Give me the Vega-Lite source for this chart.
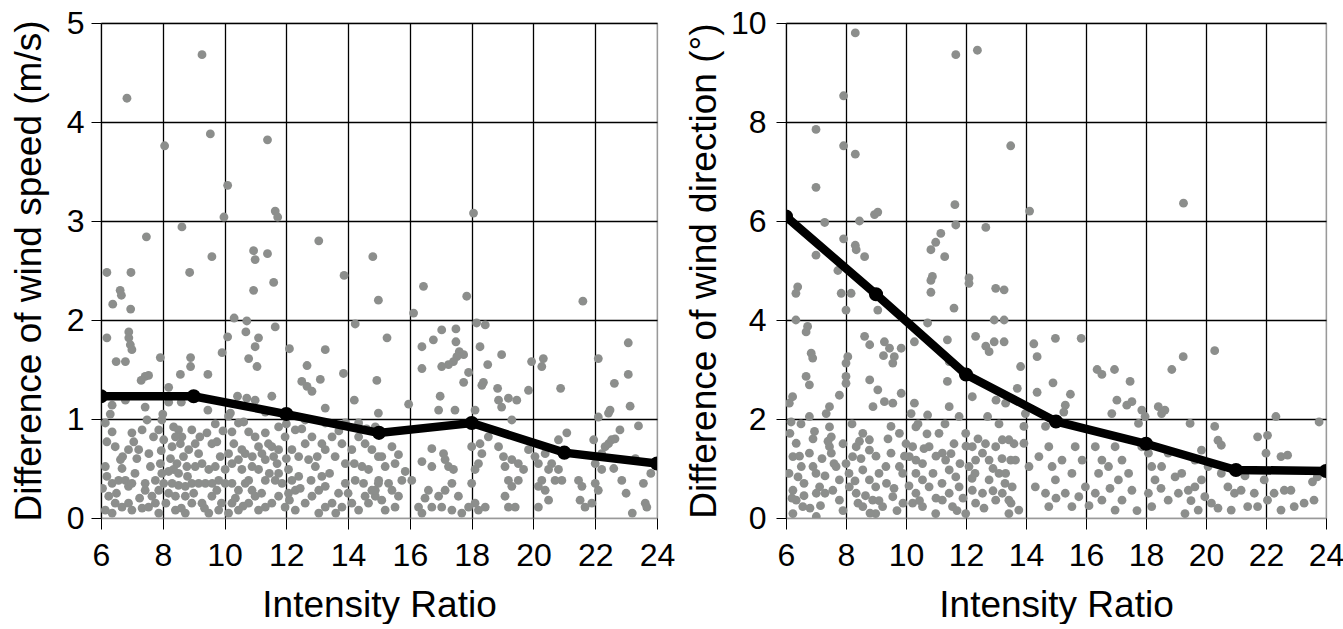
{
"$schema": "https://vega.github.io/schema/vega-lite/v6.json",
"background": "white",
"padding": {"left": 9, "top": 6, "right": 0, "bottom": 0},
"spacing": 8,
"config": {
  "font": "Liberation Sans",
  "view": {"stroke": "#999", "strokeWidth": 1.2},
  "axis": {"labelFont": "Liberation Sans", "labelFontSize": 32, "labelColor": "#000", "titleFont": "Liberation Sans", "titleFontSize": 37, "titleFontWeight": "normal", "titleColor": "#000", "grid": true, "gridOpacity": 1, "gridWidth": 1.3, "tickColor": "#000", "tickWidth": 1, "domain": false, "labelOverlap": false, "labelFlush": false},
  "axisX": {"tickSize": 11, "labelPadding": 11, "titlePadding": 16, "gridColor": {"condition": {"test": "datum.value === 24", "value": "#999"}, "value": "#000"}},
  "axisY": {"tickSize": 10, "labelPadding": 7, "titlePadding": 18, "gridColor": {"condition": {"test": "datum.value === 0", "value": "#999"}, "value": "#000"}}
},
"datasets": {
  "speed": [
{"x":9.27,"y":4.68},{"x":6.84,"y":4.24},{"x":8.06,"y":3.76},{"x":9.54,"y":3.88},{"x":11.39,"y":3.82},{"x":10.1,"y":3.36},{"x":9.98,"y":3.04},{"x":11.64,"y":3.1},{"x":11.72,"y":3.04},{"x":7.47,"y":2.84},{"x":8.62,"y":2.94},{"x":13.05,"y":2.8},{"x":10.94,"y":2.7},{"x":11.39,"y":2.67},{"x":10.99,"y":2.61},{"x":9.59,"y":2.64},{"x":14.8,"y":2.64},{"x":18.06,"y":3.08},
{"x":6.19,"y":2.48},{"x":6.97,"y":2.48},{"x":6.62,"y":2.3},{"x":6.66,"y":2.25},{"x":6.38,"y":2.16},{"x":6.96,"y":2.11},{"x":8.87,"y":2.48},{"x":11.59,"y":2.38},{"x":10.94,"y":2.3},{"x":13.87,"y":2.45},{"x":14.98,"y":2.2},{"x":10.31,"y":2.02},{"x":10.72,"y":1.99},
{"x":6.19,"y":1.82},{"x":6.9,"y":1.88},{"x":6.9,"y":1.82},{"x":6.95,"y":1.75},{"x":7.0,"y":1.7},{"x":6.49,"y":1.58},{"x":6.79,"y":1.58},{"x":7.92,"y":1.62},{"x":8.9,"y":1.62},{"x":8.9,"y":1.53},{"x":8.57,"y":1.45},{"x":9.46,"y":1.45},{"x":7.43,"y":1.43},{"x":7.54,"y":1.44},{"x":7.3,"y":1.39},{"x":10.1,"y":1.83},{"x":9.92,"y":1.67},{"x":10.69,"y":1.88},{"x":11.1,"y":1.82},{"x":10.99,"y":1.73},{"x":10.78,"y":1.61},{"x":11.05,"y":1.53},{"x":11.64,"y":1.93},{"x":12.1,"y":1.71},{"x":13.26,"y":1.7},{"x":12.67,"y":1.54},{"x":12.5,"y":1.38},{"x":12.67,"y":1.33},{"x":12.83,"y":1.28},{"x":13.1,"y":1.4},{"x":13.85,"y":1.46},{"x":14.23,"y":1.96},{"x":14.93,"y":1.39},{"x":11.53,"y":1.23},{"x":10.42,"y":1.23},{"x":10.72,"y":1.21},{"x":10.99,"y":1.19},{"x":8.19,"y":1.32},{"x":8.19,"y":1.17},{"x":8.6,"y":1.17},{"x":6.79,"y":1.19},{"x":6.36,"y":1.14},{"x":7.43,"y":1.12},{"x":9.46,"y":1.09},{"x":10.19,"y":1.06},{"x":11.32,"y":1.07},{"x":13.26,"y":1.11},{"x":14.98,"y":1.06},{"x":14.2,"y":1.19},
{"x":6.14,"y":0.96},{"x":6.36,"y":0.87},{"x":6.19,"y":0.77},{"x":6.46,"y":0.72},{"x":7.0,"y":0.86},{"x":7.06,"y":0.77},{"x":6.89,"y":0.69},{"x":7.22,"y":0.69},{"x":7.16,"y":0.6},{"x":6.63,"y":0.59},{"x":6.68,"y":0.5},{"x":6.14,"y":0.52},{"x":6.19,"y":0.42},{"x":6.36,"y":0.35},{"x":6.57,"y":0.38},{"x":6.79,"y":0.38},{"x":6.89,"y":0.32},{"x":7.0,"y":0.35},{"x":6.25,"y":0.22},{"x":6.46,"y":0.15},{"x":6.68,"y":0.11},{"x":6.89,"y":0.15},{"x":7.0,"y":0.08},{"x":6.14,"y":0.08},{"x":6.36,"y":0.05},{"x":7.33,"y":0.1},{"x":7.54,"y":0.11},{"x":7.65,"y":0.22},{"x":7.43,"y":0.28},{"x":7.43,"y":0.35},{"x":7.87,"y":0.28},{"x":7.76,"y":0.38},{"x":7.6,"y":0.52},{"x":7.92,"y":0.55},{"x":7.33,"y":0.89},{"x":7.49,"y":0.99},{"x":7.87,"y":0.89},{"x":7.97,"y":0.99},{"x":8.03,"y":0.79},{"x":8.35,"y":0.92},{"x":8.51,"y":0.89},{"x":8.62,"y":0.82},{"x":8.41,"y":0.82},{"x":8.3,"y":0.72},{"x":8.57,"y":0.75},{"x":8.84,"y":0.69},{"x":8.67,"y":0.62},{"x":8.94,"y":0.89},{"x":9.05,"y":0.75},{"x":9.16,"y":0.65},{"x":9.27,"y":0.55},{"x":9.49,"y":0.49},{"x":9.43,"y":0.86},{"x":9.59,"y":0.75},{"x":9.75,"y":0.77},{"x":9.05,"y":0.52},{"x":8.78,"y":0.52},{"x":8.46,"y":0.55},{"x":8.35,"y":0.49},{"x":8.51,"y":0.45},{"x":8.19,"y":0.47},{"x":7.97,"y":0.45},{"x":8.03,"y":0.35},{"x":8.3,"y":0.35},{"x":8.51,"y":0.33},{"x":8.73,"y":0.32},{"x":8.94,"y":0.35},{"x":9.16,"y":0.35},{"x":9.38,"y":0.35},{"x":8.19,"y":0.25},{"x":8.41,"y":0.22},{"x":8.73,"y":0.22},{"x":8.94,"y":0.15},{"x":9.27,"y":0.15},{"x":9.59,"y":0.22},{"x":9.75,"y":0.28},{"x":9.81,"y":0.38},{"x":10.02,"y":0.49},{"x":10.24,"y":0.55},{"x":10.02,"y":0.35},{"x":10.24,"y":0.35},{"x":10.45,"y":0.28},{"x":10.67,"y":0.35},{"x":10.89,"y":0.28},{"x":10.99,"y":0.22},{"x":10.78,"y":0.15},{"x":11.1,"y":0.08},{"x":10.24,"y":0.15},{"x":10.45,"y":0.08},{"x":10.13,"y":0.05},{"x":9.81,"y":0.08},{"x":9.49,"y":0.05},{"x":8.41,"y":0.08},{"x":8.73,"y":0.05},{"x":7.87,"y":0.05},{"x":7.76,"y":0.15},{"x":10.13,"y":1.03},{"x":10.45,"y":0.96},{"x":10.24,"y":0.87},{"x":10.62,"y":0.97},{"x":10.67,"y":0.65},{"x":10.78,"y":0.87},{"x":10.99,"y":0.82},{"x":11.1,"y":0.72},{"x":11.32,"y":0.86},{"x":11.42,"y":0.75},{"x":11.21,"y":0.65},{"x":11.53,"y":0.72},{"x":11.59,"y":0.62},{"x":11.75,"y":0.69},{"x":11.96,"y":0.82},{"x":11.32,"y":0.59},{"x":11.1,"y":0.49},{"x":10.89,"y":0.52},{"x":10.56,"y":0.49},{"x":10.78,"y":0.38},{"x":11.32,"y":0.38},{"x":11.64,"y":0.38},{"x":11.86,"y":0.35},{"x":12.18,"y":0.38},{"x":12.4,"y":0.42},{"x":12.07,"y":0.49},{"x":11.75,"y":0.45},{"x":12.29,"y":0.28},{"x":12.07,"y":0.25},{"x":11.75,"y":0.22},{"x":11.53,"y":0.15},{"x":11.32,"y":0.11},{"x":11.96,"y":0.11},{"x":12.29,"y":0.08},{"x":12.61,"y":0.15},{"x":12.83,"y":0.22},{"x":13.05,"y":0.28},{"x":13.26,"y":0.32},{"x":13.15,"y":0.42},{"x":12.94,"y":0.52},{"x":12.72,"y":0.59},{"x":12.4,"y":0.62},{"x":12.18,"y":0.69},{"x":12.61,"y":0.75},{"x":12.83,"y":0.82},{"x":13.15,"y":0.75},{"x":13.48,"y":0.82},{"x":13.8,"y":0.75},{"x":13.26,"y":0.69},{"x":13.58,"y":0.62},{"x":13.91,"y":0.55},{"x":14.12,"y":0.69},{"x":14.34,"y":0.82},{"x":14.55,"y":0.75},{"x":14.77,"y":0.69},{"x":14.98,"y":0.62},{"x":14.45,"y":0.52},{"x":14.66,"y":0.49},{"x":14.23,"y":0.38},{"x":13.91,"y":0.35},{"x":13.69,"y":0.25},{"x":13.48,"y":0.15},{"x":13.8,"y":0.11},{"x":14.12,"y":0.15},{"x":14.34,"y":0.08},{"x":14.66,"y":0.15},{"x":14.88,"y":0.22},{"x":14.98,"y":0.35},{"x":14.77,"y":0.28},{"x":14.55,"y":0.22},{"x":13.05,"y":0.05},{"x":13.26,"y":0.11},{"x":11.75,"y":0.92},{"x":12.29,"y":0.89},{"x":12.61,"y":0.99},{"x":13.26,"y":0.96},{"x":13.91,"y":0.96},{"x":14.34,"y":0.96},{"x":14.88,"y":0.92},{"x":10.56,"y":0.69},{"x":10.45,"y":0.59},{"x":10.13,"y":0.65},{"x":9.86,"y":0.62},{"x":9.7,"y":0.52},
{"x":6.05,"y":0.3},{"x":6.5,"y":0.25},{"x":6.7,"y":0.62},{"x":7.1,"y":0.45},{"x":7.25,"y":0.2},{"x":7.55,"y":0.65},{"x":7.7,"y":0.82},{"x":7.95,"y":0.68},{"x":8.1,"y":0.15},{"x":8.25,"y":0.6},{"x":8.6,"y":0.1},{"x":8.8,"y":0.42},{"x":9.0,"y":0.25},{"x":9.2,"y":0.82},{"x":9.35,"y":0.1},{"x":9.6,"y":0.35},{"x":9.9,"y":0.15},{"x":9.95,"y":0.88},{"x":10.3,"y":0.75},{"x":10.35,"y":0.2},{"x":10.6,"y":0.12},{"x":10.9,"y":0.62},{"x":11.2,"y":0.25},{"x":11.45,"y":0.45},{"x":11.7,"y":0.55},{"x":12.0,"y":0.6},{"x":12.1,"y":0.18},{"x":12.45,"y":0.3},{"x":12.5,"y":0.9},{"x":12.8,"y":0.38},{"x":13.0,"y":0.62},{"x":13.4,"y":0.45},{"x":13.6,"y":0.05},{"x":13.7,"y":0.88},{"x":14.0,"y":0.25},{"x":14.2,"y":0.55},{"x":14.5,"y":0.35},{"x":14.6,"y":0.9},{"x":6.3,"y":1.05},{"x":8.0,"y":1.05},{"x":9.7,"y":0.95},{"x":12.0,"y":0.95},
{"x":16.44,"y":2.34},{"x":17.84,"y":2.24},{"x":16.12,"y":2.07},{"x":21.6,"y":2.19},{"x":18.16,"y":1.97},{"x":18.44,"y":1.95},{"x":15.26,"y":1.82},{"x":17.03,"y":1.9},{"x":17.49,"y":1.91},{"x":16.76,"y":1.8},{"x":17.49,"y":1.78},{"x":16.39,"y":1.73},{"x":18.27,"y":1.73},{"x":17.6,"y":1.68},{"x":17.74,"y":1.65},{"x":17.52,"y":1.63},{"x":17.41,"y":1.58},{"x":17.25,"y":1.55},{"x":17.03,"y":1.53},{"x":16.39,"y":1.51},{"x":18.52,"y":1.55},{"x":18.97,"y":1.65},{"x":19.94,"y":1.58},{"x":20.32,"y":1.61},{"x":20.27,"y":1.53},{"x":22.1,"y":1.61},{"x":23.07,"y":1.77},{"x":23.07,"y":1.45},{"x":22.62,"y":1.36},{"x":20.88,"y":1.31},{"x":23.13,"y":1.13},{"x":23.4,"y":0.93},{"x":17.9,"y":1.47},{"x":17.74,"y":1.37},{"x":18.33,"y":1.34},{"x":18.38,"y":1.37},{"x":18.84,"y":1.31},{"x":19.84,"y":1.29},{"x":18.87,"y":1.19},{"x":18.97,"y":1.12},{"x":19.19,"y":1.21},{"x":19.46,"y":1.19},{"x":16.98,"y":1.23},{"x":15.96,"y":1.15},{"x":16.93,"y":1.09},{"x":17.46,"y":1.09},{"x":18.11,"y":1.09},{"x":19.3,"y":0.99},{"x":22.1,"y":1.02},{"x":22.43,"y":1.06},{"x":22.48,"y":1.09},{"x":22.8,"y":0.89},{"x":21.95,"y":0.79},{"x":22.32,"y":0.72},{"x":22.43,"y":0.75},{"x":22.53,"y":0.79},{"x":22.64,"y":0.8},{"x":21.08,"y":0.86},{"x":20.81,"y":0.79},{"x":22.86,"y":0.38},{"x":23.56,"y":0.35},{"x":23.62,"y":0.15},{"x":23.67,"y":0.11},
{"x":15.42,"y":0.72},{"x":15.09,"y":0.62},{"x":15.63,"y":0.64},{"x":15.52,"y":0.55},{"x":15.2,"y":0.52},{"x":15.85,"y":0.47},{"x":15.74,"y":0.38},{"x":14.99,"y":0.38},{"x":14.88,"y":0.28},{"x":15.31,"y":0.35},{"x":15.42,"y":0.28},{"x":15.63,"y":0.22},{"x":15.09,"y":0.18},{"x":15.52,"y":0.11},{"x":15.2,"y":0.08},{"x":16.06,"y":0.38},{"x":16.39,"y":0.57},{"x":16.71,"y":0.7},{"x":16.71,"y":0.52},{"x":17.09,"y":0.65},{"x":17.14,"y":0.59},{"x":17.25,"y":0.52},{"x":17.41,"y":0.49},{"x":17.36,"y":0.35},{"x":17.14,"y":0.28},{"x":16.93,"y":0.22},{"x":16.6,"y":0.28},{"x":16.49,"y":0.2},{"x":16.71,"y":0.11},{"x":16.28,"y":0.11},{"x":16.39,"y":0.05},{"x":17.03,"y":0.11},{"x":17.36,"y":0.08},{"x":17.57,"y":0.22},{"x":17.68,"y":0.05},{"x":17.9,"y":0.11},{"x":18.11,"y":0.15},{"x":18.22,"y":0.08},{"x":18.44,"y":0.11},{"x":18.0,"y":0.35},{"x":18.11,"y":0.49},{"x":18.22,"y":0.55},{"x":18.33,"y":0.65},{"x":18.0,"y":0.72},{"x":18.27,"y":0.75},{"x":18.54,"y":0.82},{"x":18.87,"y":0.72},{"x":19.03,"y":0.62},{"x":19.08,"y":0.52},{"x":19.3,"y":0.59},{"x":19.51,"y":0.55},{"x":19.68,"y":0.49},{"x":19.51,"y":0.38},{"x":19.19,"y":0.38},{"x":19.3,"y":0.32},{"x":19.08,"y":0.22},{"x":19.19,"y":0.11},{"x":19.41,"y":0.11},{"x":19.84,"y":0.69},{"x":20.05,"y":0.62},{"x":20.16,"y":0.55},{"x":20.38,"y":0.65},{"x":20.59,"y":0.55},{"x":20.49,"y":0.49},{"x":20.27,"y":0.38},{"x":20.16,"y":0.32},{"x":20.38,"y":0.28},{"x":20.49,"y":0.18},{"x":20.16,"y":0.11},{"x":20.81,"y":0.49},{"x":20.92,"y":0.38},{"x":20.7,"y":0.38},{"x":21.46,"y":0.38},{"x":21.57,"y":0.32},{"x":21.51,"y":0.18},{"x":21.67,"y":0.11},{"x":21.89,"y":0.15},{"x":22.0,"y":0.35},{"x":22.1,"y":0.28},{"x":22.21,"y":0.49},{"x":22.0,"y":0.55},{"x":22.21,"y":0.65},{"x":23.0,"y":0.25},{"x":23.3,"y":0.6},{"x":22.6,"y":0.5},{"x":23.8,"y":0.45},{"x":23.2,"y":0.05}
  ],
  "sline": [{"x":6,"y":1.23},{"x":9,"y":1.23},{"x":12,"y":1.05},{"x":15,"y":0.86},{"x":18,"y":0.96},{"x":21,"y":0.66},{"x":24,"y":0.55}],
  "dir": [
{"x":8.31,"y":9.8},{"x":11.66,"y":9.36},{"x":12.38,"y":9.45},{"x":7.92,"y":8.53},{"x":7.0,"y":7.85},{"x":7.92,"y":7.52},{"x":8.31,"y":7.35},{"x":13.49,"y":7.52},{"x":7.0,"y":6.68},{"x":11.63,"y":6.33},{"x":8.95,"y":6.13},{"x":9.06,"y":6.18},{"x":8.45,"y":6.0},{"x":7.29,"y":5.97},{"x":11.66,"y":5.92},{"x":12.66,"y":5.87},{"x":7.92,"y":5.64},{"x":8.31,"y":5.51},{"x":8.34,"y":5.42},{"x":8.62,"y":5.28},{"x":11.16,"y":5.75},{"x":10.99,"y":5.57},{"x":10.83,"y":5.42},{"x":11.29,"y":5.28},{"x":7.0,"y":5.31},{"x":7.73,"y":5.0},{"x":10.88,"y":4.88},{"x":12.1,"y":4.85},{"x":14.12,"y":6.2},{"x":19.25,"y":6.36},
{"x":6.39,"y":4.67},{"x":6.33,"y":4.54},{"x":6.33,"y":4.0},{"x":6.72,"y":3.87},{"x":6.67,"y":3.76},{"x":6.84,"y":3.33},{"x":6.89,"y":3.23},{"x":6.67,"y":2.86},{"x":6.78,"y":2.69},{"x":6.22,"y":2.45},{"x":6.11,"y":2.32},{"x":6.78,"y":2.05},{"x":6.17,"y":1.94},{"x":7.84,"y":4.54},{"x":8.0,"y":4.2},{"x":8.17,"y":4.54},{"x":9.06,"y":4.2},{"x":8.62,"y":3.67},{"x":8.79,"y":3.5},{"x":9.28,"y":3.56},{"x":9.45,"y":3.43},{"x":9.61,"y":3.26},{"x":9.56,"y":3.13},{"x":9.25,"y":3.28},{"x":9.84,"y":3.43},{"x":8.06,"y":3.26},{"x":8.0,"y":3.13},{"x":8.0,"y":2.86},{"x":8.0,"y":2.72},{"x":8.79,"y":2.79},{"x":9.06,"y":2.59},{"x":7.78,"y":2.48},{"x":7.45,"y":2.25},{"x":7.34,"y":2.11},{"x":8.9,"y":2.25},{"x":9.28,"y":2.35},{"x":9.56,"y":2.32},{"x":9.84,"y":2.52},{"x":10.83,"y":4.8},{"x":10.83,"y":4.56},{"x":11.6,"y":4.24},{"x":10.72,"y":3.94},{"x":10.28,"y":3.56},{"x":11.38,"y":3.6},{"x":11.44,"y":3.16},{"x":11.38,"y":2.76},{"x":10.28,"y":2.32},{"x":10.17,"y":2.11},{"x":11.44,"y":2.25},{"x":10.72,"y":2.08},{"x":12.1,"y":4.74},{"x":12.99,"y":4.64},{"x":12.32,"y":3.67},{"x":12.66,"y":3.47},{"x":12.94,"y":3.56},{"x":12.77,"y":3.36},{"x":12.94,"y":4.0},{"x":12.21,"y":2.45},{"x":13.0,"y":2.38},{"x":12.72,"y":2.05},{"x":11.77,"y":2.05},
{"x":6.13,"y":1.71},{"x":6.34,"y":1.51},{"x":6.23,"y":1.24},{"x":6.51,"y":1.04},{"x":6.4,"y":0.83},{"x":6.23,"y":0.56},{"x":6.34,"y":0.36},{"x":6.56,"y":0.23},{"x":6.23,"y":0.09},{"x":7.01,"y":0.03},{"x":6.78,"y":1.31},{"x":6.9,"y":1.04},{"x":7.12,"y":0.63},{"x":7.01,"y":0.5},{"x":7.45,"y":1.84},{"x":7.51,"y":1.64},{"x":7.45,"y":1.44},{"x":7.51,"y":1.31},{"x":7.67,"y":1.04},{"x":7.78,"y":0.77},{"x":7.56,"y":0.56},{"x":7.78,"y":0.36},{"x":8.11,"y":0.63},{"x":8.34,"y":0.5},{"x":8.22,"y":1.24},{"x":8.34,"y":1.44},{"x":8.56,"y":1.71},{"x":8.78,"y":1.58},{"x":8.78,"y":1.37},{"x":8.56,"y":0.97},{"x":8.78,"y":0.77},{"x":8.99,"y":0.63},{"x":8.89,"y":0.36},{"x":8.56,"y":0.23},{"x":8.99,"y":0.09},{"x":9.22,"y":0.23},{"x":9.56,"y":0.43},{"x":9.33,"y":1.04},{"x":9.5,"y":1.31},{"x":9.78,"y":1.71},{"x":9.78,"y":1.04},{"x":9.89,"y":0.9},{"x":10.33,"y":1.84},{"x":10.22,"y":1.44},{"x":10.11,"y":1.24},{"x":10.33,"y":1.17},{"x":10.55,"y":1.1},{"x":10.33,"y":0.9},{"x":10.55,"y":0.77},{"x":10.77,"y":0.63},{"x":10.33,"y":0.5},{"x":10.22,"y":0.3},{"x":10.55,"y":0.23},{"x":10.99,"y":0.09},{"x":10.77,"y":1.44},{"x":11.1,"y":1.71},{"x":11.21,"y":1.31},{"x":11.32,"y":1.17},{"x":11.44,"y":0.97},{"x":11.66,"y":0.83},{"x":11.77,"y":0.63},{"x":11.44,"y":0.5},{"x":11.21,"y":0.36},{"x":11.55,"y":0.23},{"x":11.99,"y":0.09},{"x":11.99,"y":1.71},{"x":12.21,"y":1.44},{"x":12.32,"y":1.17},{"x":12.1,"y":1.04},{"x":12.55,"y":1.31},{"x":12.77,"y":1.17},{"x":12.99,"y":1.44},{"x":13.21,"y":1.58},{"x":13.1,"y":0.9},{"x":12.77,"y":0.77},{"x":12.55,"y":0.5},{"x":12.99,"y":0.36},{"x":13.21,"y":0.5},{"x":12.32,"y":0.3},{"x":13.43,"y":0.09},{"x":12.21,"y":0.56},{"x":13.49,"y":1.17},
{"x":6.5,"y":1.9},{"x":6.9,"y":1.6},{"x":7.2,"y":1.2},{"x":7.0,"y":0.9},{"x":6.6,"y":0.7},{"x":6.2,"y":0.4},{"x":6.8,"y":0.2},{"x":7.3,"y":0.5},{"x":7.6,"y":1.1},{"x":7.9,"y":1.5},{"x":8.2,"y":1.9},{"x":8.5,"y":1.2},{"x":8.1,"y":0.9},{"x":8.4,"y":0.3},{"x":8.8,"y":0.1},{"x":9.1,"y":0.9},{"x":9.4,"y":1.6},{"x":9.6,"y":0.6},{"x":9.9,"y":0.3},{"x":10.0,"y":1.5},{"x":10.4,"y":1.9},{"x":10.6,"y":1.4},{"x":10.9,"y":0.9},{"x":11.0,"y":0.4},{"x":11.3,"y":1.9},{"x":11.6,"y":1.5},{"x":11.8,"y":1.1},{"x":11.9,"y":0.4},{"x":12.2,"y":0.8},{"x":12.4,"y":1.6},{"x":12.6,"y":0.2},{"x":12.9,"y":1.0},{"x":13.1,"y":1.9},{"x":13.3,"y":0.7},{"x":13.5,"y":0.3},{"x":13.6,"y":1.5},
{"x":6.1,"y":0.9},{"x":6.45,"y":1.25},{"x":6.6,"y":0.45},{"x":6.95,"y":1.75},{"x":7.15,"y":0.25},{"x":7.3,"y":0.85},{"x":7.4,"y":1.55},{"x":7.9,"y":0.15},{"x":8.0,"y":1.1},{"x":8.3,"y":0.75},{"x":8.45,"y":1.55},{"x":8.65,"y":0.45},{"x":9.0,"y":1.25},{"x":9.1,"y":0.35},{"x":9.35,"y":0.7},{"x":9.5,"y":1.85},{"x":9.7,"y":0.15},{"x":9.95,"y":1.25},{"x":10.1,"y":0.65},{"x":10.45,"y":0.35},{"x":10.7,"y":1.7},{"x":11.0,"y":1.25},{"x":11.2,"y":0.7},{"x":11.5,"y":1.3},{"x":11.7,"y":0.15},{"x":12.0,"y":1.45},{"x":12.3,"y":0.9},{"x":12.65,"y":1.5},{"x":12.9,"y":0.55},{"x":13.2,"y":1.2},{"x":15.0,"y":0.4},{"x":16.1,"y":0.25},{"x":16.8,"y":0.6},{"x":17.7,"y":0.15},{"x":18.5,"y":0.6},{"x":19.5,"y":0.35},{"x":20.4,"y":0.2},{"x":21.3,"y":0.85},
{"x":13.27,"y":4.61},{"x":13.27,"y":4.0},{"x":13.27,"y":3.56},{"x":14.26,"y":3.52},{"x":14.37,"y":3.26},{"x":14.98,"y":3.63},{"x":15.84,"y":3.63},{"x":13.82,"y":3.06},{"x":14.9,"y":2.73},{"x":14.37,"y":2.54},{"x":15.48,"y":2.5},{"x":13.32,"y":2.32},{"x":13.71,"y":2.62},{"x":16.37,"y":3.0},{"x":16.53,"y":2.9},{"x":16.95,"y":3.0},{"x":17.47,"y":2.76},{"x":17.03,"y":2.38},{"x":17.36,"y":2.28},{"x":17.53,"y":2.35},{"x":16.86,"y":2.11},{"x":18.86,"y":3.0},{"x":19.24,"y":3.26},{"x":20.29,"y":3.38},{"x":18.41,"y":2.25},{"x":18.52,"y":2.11},{"x":18.63,"y":2.18},{"x":17.86,"y":2.18},{"x":17.97,"y":2.05},{"x":17.75,"y":1.91},{"x":19.47,"y":1.91},{"x":20.29,"y":1.85},{"x":22.33,"y":2.05},{"x":23.77,"y":1.94},{"x":20.4,"y":1.57},{"x":20.51,"y":1.47},{"x":21.72,"y":1.64},{"x":22.0,"y":1.31},{"x":22.05,"y":1.67},{"x":22.5,"y":1.24},{"x":22.72,"y":1.27},{"x":15.31,"y":2.28},{"x":15.26,"y":2.14},{"x":13.98,"y":2.11},{"x":14.65,"y":1.85},{"x":13.93,"y":1.85},{"x":13.93,"y":1.51},{"x":19.85,"y":1.37},
{"x":13.43,"y":1.58},{"x":13.65,"y":1.17},{"x":13.32,"y":0.9},{"x":13.54,"y":0.63},{"x":13.43,"y":0.36},{"x":13.76,"y":0.16},{"x":14.31,"y":0.63},{"x":14.1,"y":1.04},{"x":14.43,"y":1.24},{"x":14.76,"y":1.44},{"x":14.87,"y":1.04},{"x":14.98,"y":0.77},{"x":15.2,"y":1.17},{"x":15.31,"y":0.5},{"x":15.53,"y":0.9},{"x":15.64,"y":1.44},{"x":15.87,"y":1.17},{"x":15.98,"y":0.63},{"x":15.76,"y":0.43},{"x":15.53,"y":0.23},{"x":14.76,"y":0.23},{"x":14.65,"y":0.5},{"x":16.31,"y":1.44},{"x":16.53,"y":1.17},{"x":16.42,"y":0.9},{"x":16.75,"y":1.04},{"x":16.97,"y":1.44},{"x":17.08,"y":0.77},{"x":17.2,"y":1.17},{"x":17.42,"y":0.9},{"x":17.53,"y":0.56},{"x":17.2,"y":0.36},{"x":16.97,"y":0.16},{"x":16.53,"y":0.36},{"x":16.31,"y":0.5},{"x":17.86,"y":1.44},{"x":18.08,"y":1.31},{"x":18.19,"y":1.04},{"x":18.3,"y":0.77},{"x":18.08,"y":0.5},{"x":18.19,"y":0.23},{"x":18.52,"y":1.04},{"x":18.97,"y":0.83},{"x":19.19,"y":0.9},{"x":19.41,"y":0.56},{"x":19.08,"y":0.5},{"x":18.74,"y":0.36},{"x":19.63,"y":0.63},{"x":19.85,"y":0.77},{"x":19.96,"y":0.43},{"x":19.74,"y":0.16},{"x":20.18,"y":0.3},{"x":19.3,"y":0.09},{"x":20.07,"y":1.04},{"x":20.51,"y":0.9},{"x":20.73,"y":0.63},{"x":20.95,"y":0.5},{"x":20.84,"y":0.16},{"x":21.17,"y":0.56},{"x":21.61,"y":0.5},{"x":21.39,"y":0.23},{"x":21.94,"y":0.77},{"x":22.05,"y":0.36},{"x":22.27,"y":0.5},{"x":22.61,"y":0.56},{"x":22.83,"y":0.56},{"x":22.94,"y":0.23},{"x":23.27,"y":0.3},{"x":23.6,"y":0.36},{"x":23.55,"y":0.73},{"x":23.71,"y":0.83},{"x":22.5,"y":0.16},{"x":21.72,"y":0.23},{"x":19.63,"y":1.17},{"x":18.74,"y":1.31}
  ],
  "dline": [{"x":6,"y":6.09},{"x":9,"y":4.52},{"x":12,"y":2.9},{"x":15,"y":1.95},{"x":18,"y":1.5},{"x":21,"y":0.97},{"x":24,"y":0.95}]
},
"hconcat": [
  {
    "width": 556, "height": 495,
    "encoding": {
      "x": {"field": "x", "type": "quantitative", "scale": {"domain": [6, 24], "nice": false, "zero": false}, "axis": {"values": [6,8,10,12,14,16,18,20,22,24], "title": "Intensity Ratio"}},
      "y": {"field": "y", "type": "quantitative", "scale": {"domain": [0, 5], "nice": false}, "axis": {"values": [0,1,2,3,4,5], "title": "Difference of wind speed (m/s)", "titlePadding": 18, "labelPadding": 7}}
    },
    "layer": [
      {"data": {"name": "speed"}, "mark": {"type": "circle", "size": 78, "color": "#8c8e8c", "opacity": 1, "clip": true}},
      {"data": {"name": "sline"}, "mark": {"type": "line", "color": "#000", "strokeWidth": 8.5, "clip": true}},
      {"data": {"name": "sline"}, "mark": {"type": "circle", "size": 200, "color": "#000", "opacity": 1, "clip": true}}
    ]
  },
  {
    "width": 540, "height": 495,
    "encoding": {
      "x": {"field": "x", "type": "quantitative", "scale": {"domain": [6, 24], "nice": false, "zero": false}, "axis": {"values": [6,8,10,12,14,16,18,20,22,24], "title": "Intensity Ratio"}},
      "y": {"field": "y", "type": "quantitative", "scale": {"domain": [0, 10], "nice": false}, "axis": {"values": [0,2,4,6,8,10], "title": "Difference of wind direction (°)", "titlePadding": 7, "labelPadding": 10}}
    },
    "layer": [
      {"data": {"name": "dir"}, "mark": {"type": "circle", "size": 78, "color": "#8c8e8c", "opacity": 1, "clip": true}},
      {"data": {"name": "dline"}, "mark": {"type": "line", "color": "#000", "strokeWidth": 8.5, "clip": true}},
      {"data": {"name": "dline"}, "mark": {"type": "circle", "size": 200, "color": "#000", "opacity": 1, "clip": true}}
    ]
  }
]
}
